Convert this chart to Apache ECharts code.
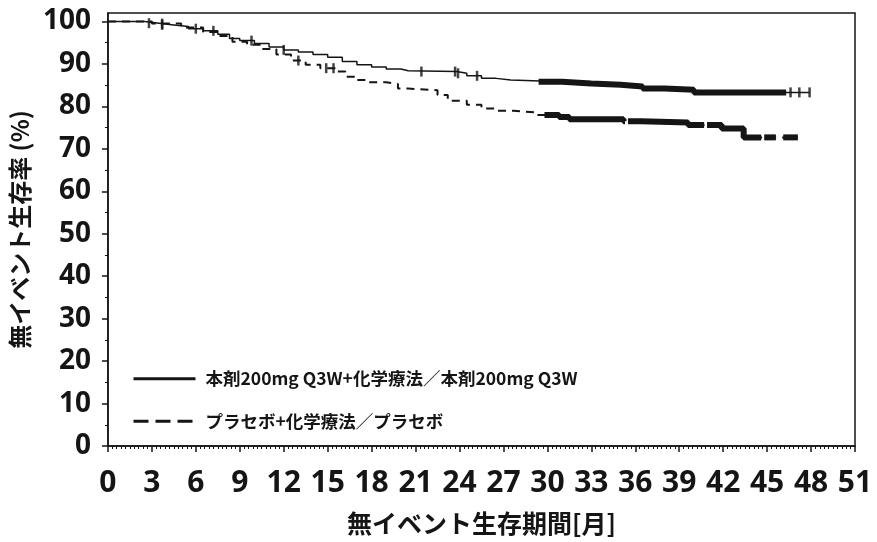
<!DOCTYPE html>
<html>
<head>
<meta charset="utf-8">
<script src="https://cdn.jsdelivr.net/npm/echarts@6/dist/echarts.min.js"></script>
<style>
  html, body { margin: 0; padding: 0; background: #fff; }
  #chart { width: 877px; height: 542px; }
</style>
</head>
<body>
<div id="chart"></div>
<script>
// Kaplan-Meier 曲線 [月, 無イベント生存率]
const pembroCurve = [
  [0, 100], [2.5, 99.6], [3.5, 99.2], [4.5, 98.8], [5.5, 98.3], [6.5, 97.8],
  [7.5, 97.0], [8.3, 96.0], [9, 95.5], [10, 94.8], [11, 94.0], [12, 93.3],
  [13, 92.8], [14, 92.2], [15, 91.6], [16, 90.6], [17, 89.8], [18, 89.3],
  [19, 88.8], [20, 88.4], [20.5, 88.2], [23.8, 87.8], [24.5, 87.2], [25.5, 86.6],
  [26.5, 86.2], [27.5, 85.8], [31, 85.4], [33, 85.1], [35, 84.7], [36.5, 84.2],
  [38, 83.9], [40, 83.3], [47.9, 83.3]
];
const placeboCurve = [
  [0, 100], [3, 99.5], [5, 98.6], [6.5, 97.5], [7.5, 96.6], [8.5, 95.2],
  [9.5, 94.5], [10.5, 93.5], [11.5, 92.2], [12.5, 90.8], [13.5, 89.8], [14.5, 89.0],
  [15.5, 88.2], [16.2, 87.0], [17, 86.2], [17.8, 85.7], [19, 85.3], [19.8, 84.2],
  [20.5, 83.8], [22.5, 82.7], [23.2, 81.3], [24.5, 80.4], [25.5, 79.5], [26.5, 79.0],
  [27.7, 78.6], [29.1, 78.0], [30.8, 77.5], [31.5, 77.0], [35.2, 76.5], [36.4, 76.2],
  [39.6, 75.6], [41.9, 74.8], [43.4, 72.7], [47.1, 72.7]
];
// 打ち切り (censor) 時点
const pembroCensor = [2.8, 3.7, 6.0, 7.2, 9.8, 12.0, 21.4, 23.7, 23.9, 25.2, 46.6, 47.2, 47.9];
const placeboCensor = [3.7, 13.0, 14.9, 15.4];
// 打ち切りが密集している区間
const pembroDense = [[29.4, 46.3]];
const placeboDense = [[29.8, 35.3], [35.5, 40.7], [40.9, 44.6], [44.8, 45.6], [46.1, 47.1]];

const xTicks = [0, 3, 6, 9, 12, 15, 18, 21, 24, 27, 30, 33, 36, 39, 42, 45, 48, 51];
const yTicks = [0, 10, 20, 30, 40, 50, 60, 70, 80, 90, 100];
const yMinorTicks = [5, 15, 25, 35, 45, 55, 65, 75, 85, 95];

const pembroName = '本剤200mg Q3W+化学療法／本剤200mg Q3W';
const placeboName = 'プラセボ+化学療法／プラセボ';

function kmAt(curve, t) {
  let v = curve[0][1];
  for (const p of curve) { if (p[0] <= t) v = p[1]; }
  return v;
}
function bandSeries(curve, bands, lw) {
  return bands.map(b => {
    const pts = [[b[0], kmAt(curve, b[0])]];
    curve.forEach(p => { if (p[0] > b[0] && p[0] < b[1]) pts.push(p); });
    pts.push([b[1], kmAt(curve, b[1])]);
    return {
      type: 'line', step: 'end', data: pts, symbol: 'none', silent: true,
      lineStyle: { color: '#151515', width: lw }, z: 3
    };
  });
}
function censorSeries(curve, times) {
  return {
    type: 'scatter', data: times.map(t => [t, kmAt(curve, t)]),
    symbol: 'rect', symbolSize: [2.5, 10], itemStyle: { color: '#151515' }, z: 4
  };
}

const font = '"Noto Sans CJK JP", "Noto Sans", sans-serif';
const numFont = '"Open Sans", sans-serif';
const chart = echarts.init(document.getElementById('chart'));
chart.setOption({
  animation: false,
  backgroundColor: '#fff',
  grid: { left: 106, right: 22, top: 13, bottom: 96, show: true, borderColor: '#151515', borderWidth: 1.5 },
  legend: {
    data: [
      { name: pembroName, lineStyle: { width: 3, type: 'solid' } },
      { name: placeboName, lineStyle: { width: 3, type: [15, 7] } }
    ],
    orient: 'vertical', left: 127, top: 365,
    itemWidth: 62, itemHeight: 14, itemGap: 25,
    itemStyle: { opacity: 0 },
    lineStyle: { width: 3 },
    textStyle: { fontFamily: font, fontSize: 17.5, fontWeight: 'bold', color: '#151515', padding: [0, 0, 0, 5] }
  },
  xAxis: {
    type: 'value', min: 0, max: 51, interval: 3,
    splitLine: { show: false },
    axisLine: { lineStyle: { color: '#151515', width: 1.5 } },
    axisTick: { length: 6, lineStyle: { color: '#151515', width: 1.5 } },
    minorTick: { show: true, splitNumber: 10, length: 3, lineStyle: { color: '#151515' } },
    axisLabel: { margin: 22, fontFamily: numFont, fontSize: 30, fontWeight: 'bold', color: '#151515',
      customValues: xTicks },
    name: '無イベント生存期間[月]', nameLocation: 'middle', nameGap: 65,
    nameTextStyle: { fontFamily: font, fontSize: 25, fontWeight: 'bold', color: '#151515' }
  },
  yAxis: [{
    type: 'value', min: 0, max: 102,
    splitLine: { show: false },
    axisLine: { lineStyle: { color: '#151515', width: 1.5 } },
    axisTick: { length: 6, lineStyle: { color: '#151515', width: 1.5 }, customValues: yTicks },
    axisLabel: { margin: 17, fontFamily: numFont, fontSize: 28, fontWeight: 'bold', color: '#151515',
      customValues: yTicks },
    name: '無イベント生存率 (%)', nameLocation: 'middle', nameGap: 73, nameRotate: 90,
    nameTextStyle: { fontFamily: font, fontSize: 24, fontWeight: 'bold', color: '#151515' }
  }, {
    type: 'value', min: 0, max: 102, position: 'left',
    splitLine: { show: false },
    axisLine: { show: false },
    axisTick: { length: 3, lineStyle: { color: '#151515' }, customValues: yMinorTicks },
    axisLabel: { show: false }
  }],
  series: [
    { name: pembroName, type: 'line', step: 'end', data: pembroCurve, symbol: 'none',
      itemStyle: { color: '#151515' },
      lineStyle: { color: '#151515', width: 1.5, type: 'solid' }, z: 3 },
    { name: placeboName, type: 'line', step: 'end', data: placeboCurve, symbol: 'none',
      itemStyle: { color: '#151515' },
      lineStyle: { color: '#151515', width: 2, type: [8, 6] }, z: 3 },
    ...bandSeries(pembroCurve, pembroDense, 6),
    ...bandSeries(placeboCurve, placeboDense, 6),
    censorSeries(pembroCurve, pembroCensor),
    censorSeries(placeboCurve, placeboCensor)
  ]
});
</script>
</body>
</html>
